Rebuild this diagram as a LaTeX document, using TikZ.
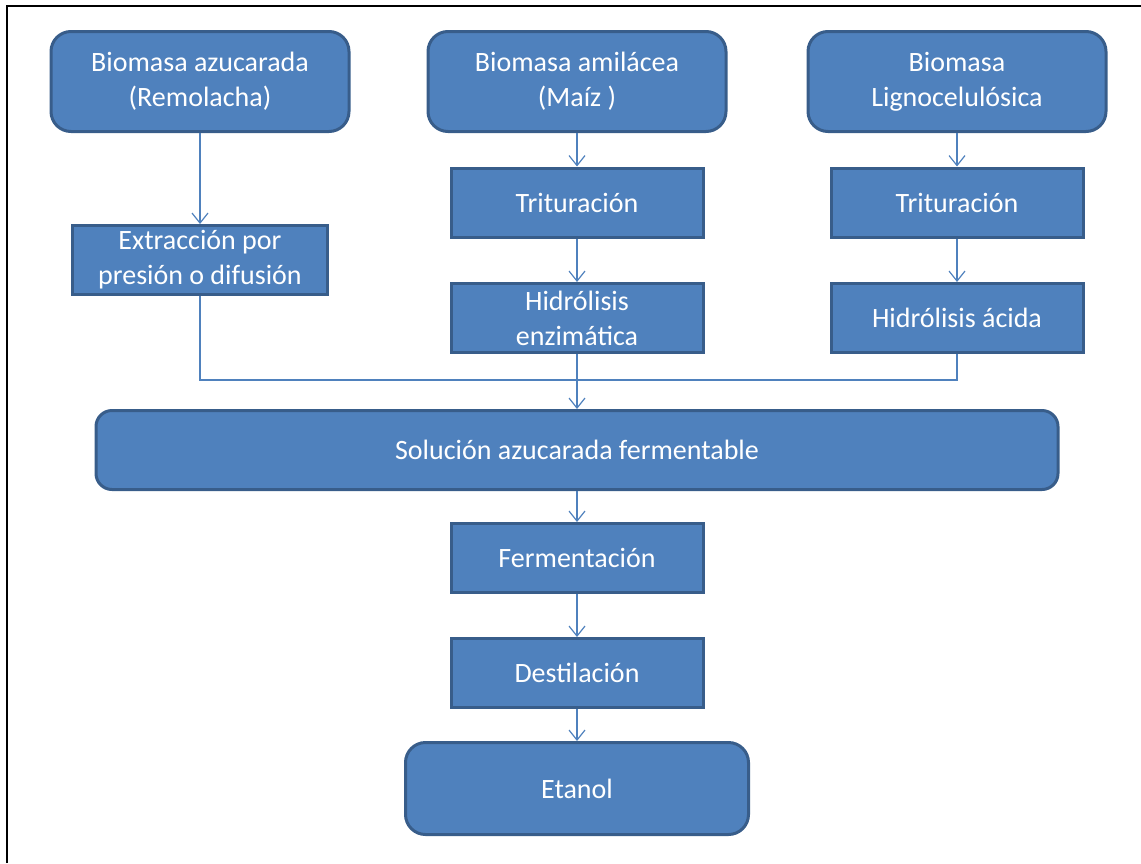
\documentclass[tikz,border=0pt]{standalone}
\usepackage{fontspec}
\setmainfont{Carlito}
\usepackage{tikz}
\usetikzlibrary{arrows.meta, positioning}

\definecolor{cajafondo}{HTML}{4F81BD}
\definecolor{cajaborde}{HTML}{385D8A}

\begin{document}
\begin{tikzpicture}[x=1pt, y=-1pt, font=\fontsize{28}{35}\selectfont]

	\tikzset{
		fuente/.style={
				rectangle, rounded corners=20pt, draw=cajaborde, fill=cajafondo, line width=3pt, text=white, align=center, inner sep=0pt, minimum width=298pt, minimum height=100pt
			},
		paso/.style={
				rectangle, draw=cajaborde, fill=cajafondo, line width=3pt, text=white, align=center, inner sep=0pt, minimum width=252pt, minimum height=69pt
			},
		flecha/.style={
				draw=cajafondo, line width=1.2pt, -{Straight Barb[length=10pt, width=16pt]}
			},
		linea/.style={
				draw=cajafondo, line width=1.2pt
			},
	}
	\useasboundingbox (0,0) rectangle (1141,863);
	\draw[line width=2.5pt] (7,863) -- (7,6) -- (1141,6);

	\node[fuente](remolacha) at (200,81.5){Biomasa azucarada\\(Remolacha)};
	\node[fuente](maiz) at (577,81.5){Biomasa amilácea\\(Maíz )};
	\node[fuente](ligno) at (957,81.5){Biomasa\\Lignocelulósica};

	\node[paso, minimum width=255pt](extraccion) at (200,260){Extracción por\\presión o difusión};
	\node[paso](tritA) at (577,202.5){Trituración};
	\node[paso](hidrA) at (577,318){Hidrólisis\\enzimática};
	\node[paso](tritB) at (957,202.5){Trituración};
	\node[paso](hidrB) at (957,318){Hidrólisis ácida};

	\coordinate (union) at (577,380);
	\node[fuente, rounded corners=16pt, minimum width=962pt, minimum height=79pt](solucion) at (577,450){Solución azucarada fermentable};
	\node[paso](ferm) at (577,558){Fermentación};
	\node[paso](dest) at (577,673){Destilación};
	\node[fuente, minimum width=343pt, minimum height=92pt](etanol) at (577,788.5){Etanol};

	\draw[flecha] (remolacha)--(extraccion);
	\draw[flecha] (maiz)--(tritA);
	\draw[flecha] (tritA)--(hidrA);
	\draw[flecha] (ligno)--(tritB);
	\draw[flecha] (tritB)--(hidrB);
	\draw[linea] (extraccion.south) |- (union);
	\draw[linea] (hidrB.south) |- (union);
	\draw[flecha] (hidrA)--(solucion);
	\draw[flecha] (solucion)--(ferm);
	\draw[flecha] (ferm)--(dest);
	\draw[flecha] (dest)--(etanol);

\end{tikzpicture}
\end{document}
